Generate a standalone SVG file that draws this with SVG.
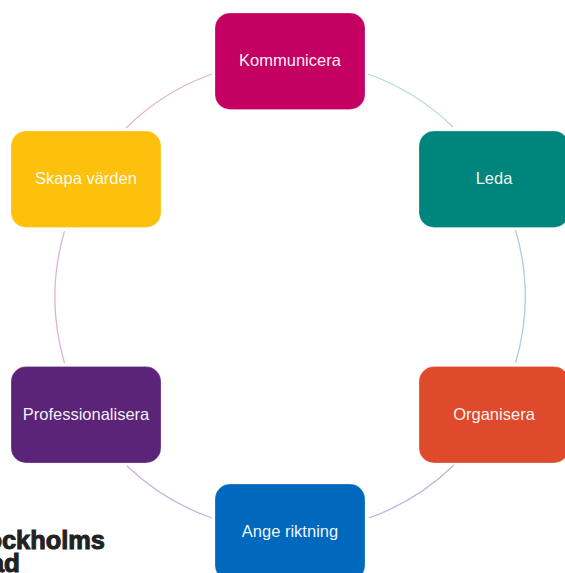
<svg xmlns="http://www.w3.org/2000/svg" width="565" height="573" viewBox="0 0 565 573">
<style>
.n{stroke:#fff;stroke-opacity:.25;stroke-width:1}
.t{font-family:"Liberation Sans",Arial,sans-serif;font-size:16.500px;fill:#fff;fill-opacity:.96;text-anchor:middle}
.c{fill:none;stroke-width:1.300}
.l{font-family:"Liberation Sans",Arial,sans-serif;font-weight:700;font-size:26px;fill:#222;stroke:#222;stroke-width:1}
</style>
<rect width="565" height="573" fill="#fff"/>
<g id="connectors">
<path class="c" stroke="#b5d9d6" d="M368 74A235 235 0 0 1 453 127"/>
<path class="c" stroke="#b3c9dc" d="M515.500 230A235 235 0 0 1 515.500 363"/>
<path class="c" stroke="#bcb8df" d="M454 465A235 235 0 0 1 369 518"/>
<path class="c" stroke="#c9b3dc" d="M212 518A235 235 0 0 1 127 466"/>
<path class="c" stroke="#e0b3da" d="M64.500 363A235 235 0 0 1 64.500 231"/>
<path class="c" stroke="#e6b0c8" d="M126 128A235 235 0 0 1 212 74"/>
</g>
<g id="kommunicera"><rect class="n" x="215" y="13" width="150" height="96.500" rx="15" fill="#c40062"/><text class="t" x="290" y="66">Kommunicera</text></g>
<g id="leda"><rect class="n" x="419" y="131" width="150" height="96.500" rx="15" fill="#00857c"/><text class="t" x="494" y="184">Leda</text></g>
<g id="organisera"><rect class="n" x="419" y="366.500" width="150" height="96.500" rx="15" fill="#de4a2b"/><text class="t" x="494" y="420">Organisera</text></g>
<g id="ange-riktning"><rect class="n" x="215" y="484" width="150" height="96.500" rx="15" fill="#0069bd"/><text class="t" x="290" y="537">Ange riktning</text></g>
<g id="professionalisera"><rect class="n" x="11" y="366.500" width="150" height="96.500" rx="15" fill="#5c2478"/><text class="t" x="86" y="420">Professionalisera</text></g>
<g id="skapa-varden"><rect class="n" x="11" y="131" width="150" height="96.500" rx="15" fill="#fdc00c"/><text class="t" x="86" y="184">Skapa värden</text></g>
<g id="logo"><text class="l" x="-39" y="549" textLength="144" lengthAdjust="spacingAndGlyphs">Stockholms</text><text class="l" x="20" y="571.500" text-anchor="end">stad</text></g>
</svg>
